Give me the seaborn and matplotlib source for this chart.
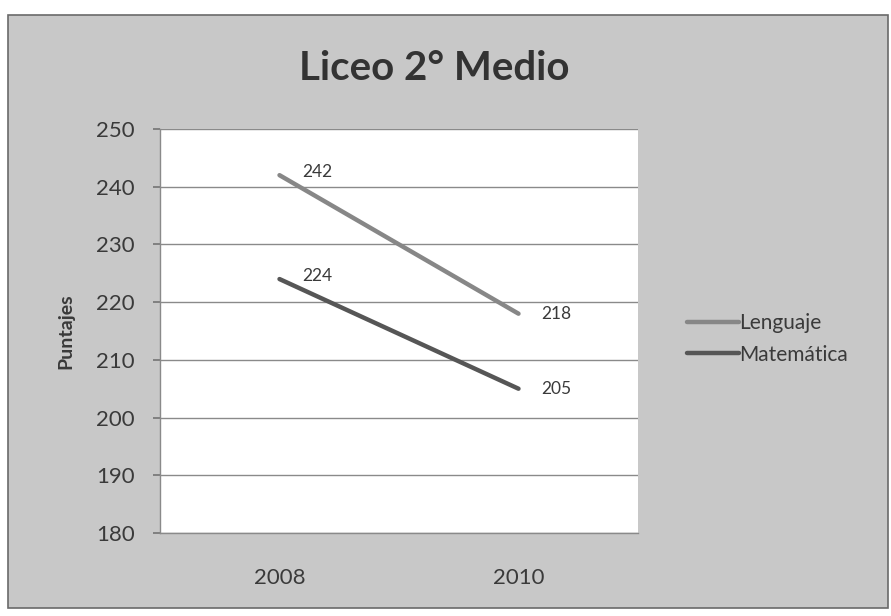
import pandas as pd
import matplotlib.pyplot as plt
import seaborn as sns
from matplotlib.patches import Rectangle
from matplotlib.ticker import FixedLocator

# Data
years = ["2008", "2010"]
lenguaje = [242, 218]
matematica = [224, 205]
series_names = ["Lenguaje", "Matemática"]

df = pd.DataFrame({
    "Año": years * 2,
    "Puntajes": lenguaje + matematica,
    "Asignatura": [series_names[0]] * len(years) + [series_names[1]] * len(years),
})
df["pos"] = df["Año"].map({y: i for i, y in enumerate(years)})

sns.set_theme(style="white")
plt.rcParams["font.family"] = ["Lato", "DejaVu Sans"]

palette = {"Lenguaje": "#878787", "Matemática": "#565656"}
text_col = "#3a3a3a"

fig = plt.figure(figsize=(8.91, 6.16), dpi=100)
fig.patch.set_facecolor("white")

# Chart area (grey panel with border) like the Excel chart frame
fig.patches.append(Rectangle((8 / 891, 1 - 608 / 616), 880 / 891, 593 / 616,
                             transform=fig.transFigure, facecolor="#c8c8c8",
                             edgecolor="#6a6a6a", linewidth=1.2, zorder=-10))

ax = fig.add_axes([160 / 891, 1 - 533 / 616, 478 / 891, 404 / 616])
ax.set_facecolor("white")

sns.lineplot(data=df, x="pos", y="Puntajes", hue="Asignatura", palette=palette,
             linewidth=3.2, ax=ax, legend=False, solid_capstyle="round")

# Data labels
for name, vals in [("Lenguaje", lenguaje), ("Matemática", matematica)]:
    for i, v in enumerate(vals):
        ax.annotate(str(v), (i, v), xytext=(16, 2 if i == 0 else 0), textcoords="offset points",
                    ha="left", va="center", fontsize=12.5, color=text_col)

ax.set_xlim(-0.5, 1.5)
ax.set_ylim(180, 250)
ax.set_yticks(range(180, 251, 10))
ax.set_xticks(range(len(years)))
ax.set_xticklabels(years)
ax.xaxis.set_minor_locator(FixedLocator([0.5]))
ax.tick_params(axis="x", which="major", length=0, pad=25, labelsize=16, labelcolor=text_col)
ax.tick_params(axis="x", which="minor", length=5, color="#777777", direction="out")
ax.tick_params(axis="y", length=5, color="#777777", direction="out", pad=13,
               labelsize=16, labelcolor=text_col, left=True)

ax.yaxis.grid(True, color="#8a8a8a", linewidth=1.0)
ax.set_axisbelow(True)
for side in ["top", "right"]:
    ax.spines[side].set_visible(False)
for side in ["left", "bottom"]:
    ax.spines[side].set_color("#8a8a8a")
    ax.spines[side].set_linewidth(1.0)

ax.set_xlabel("")
ax.set_ylabel("Puntajes", fontsize=14, fontweight="bold", color=text_col, labelpad=16)

# Legend on the grey panel to the right
handles = [plt.Line2D([], [], color=palette[n], linewidth=3.2) for n in series_names]
fig.legend(handles, series_names, loc="center left", bbox_to_anchor=(668 / 891, 1 - 339 / 616),
           frameon=False, fontsize=15, handlelength=2.5, handletextpad=0.0,
           labelspacing=0.55, labelcolor=text_col)

fig.text(434 / 891, 1 - 68 / 616, "Liceo 2° Medio", ha="center", va="center",
         fontsize=29, fontweight="bold", color="#333333")

fig.savefig("out.png", dpi=100, facecolor=fig.get_facecolor())
